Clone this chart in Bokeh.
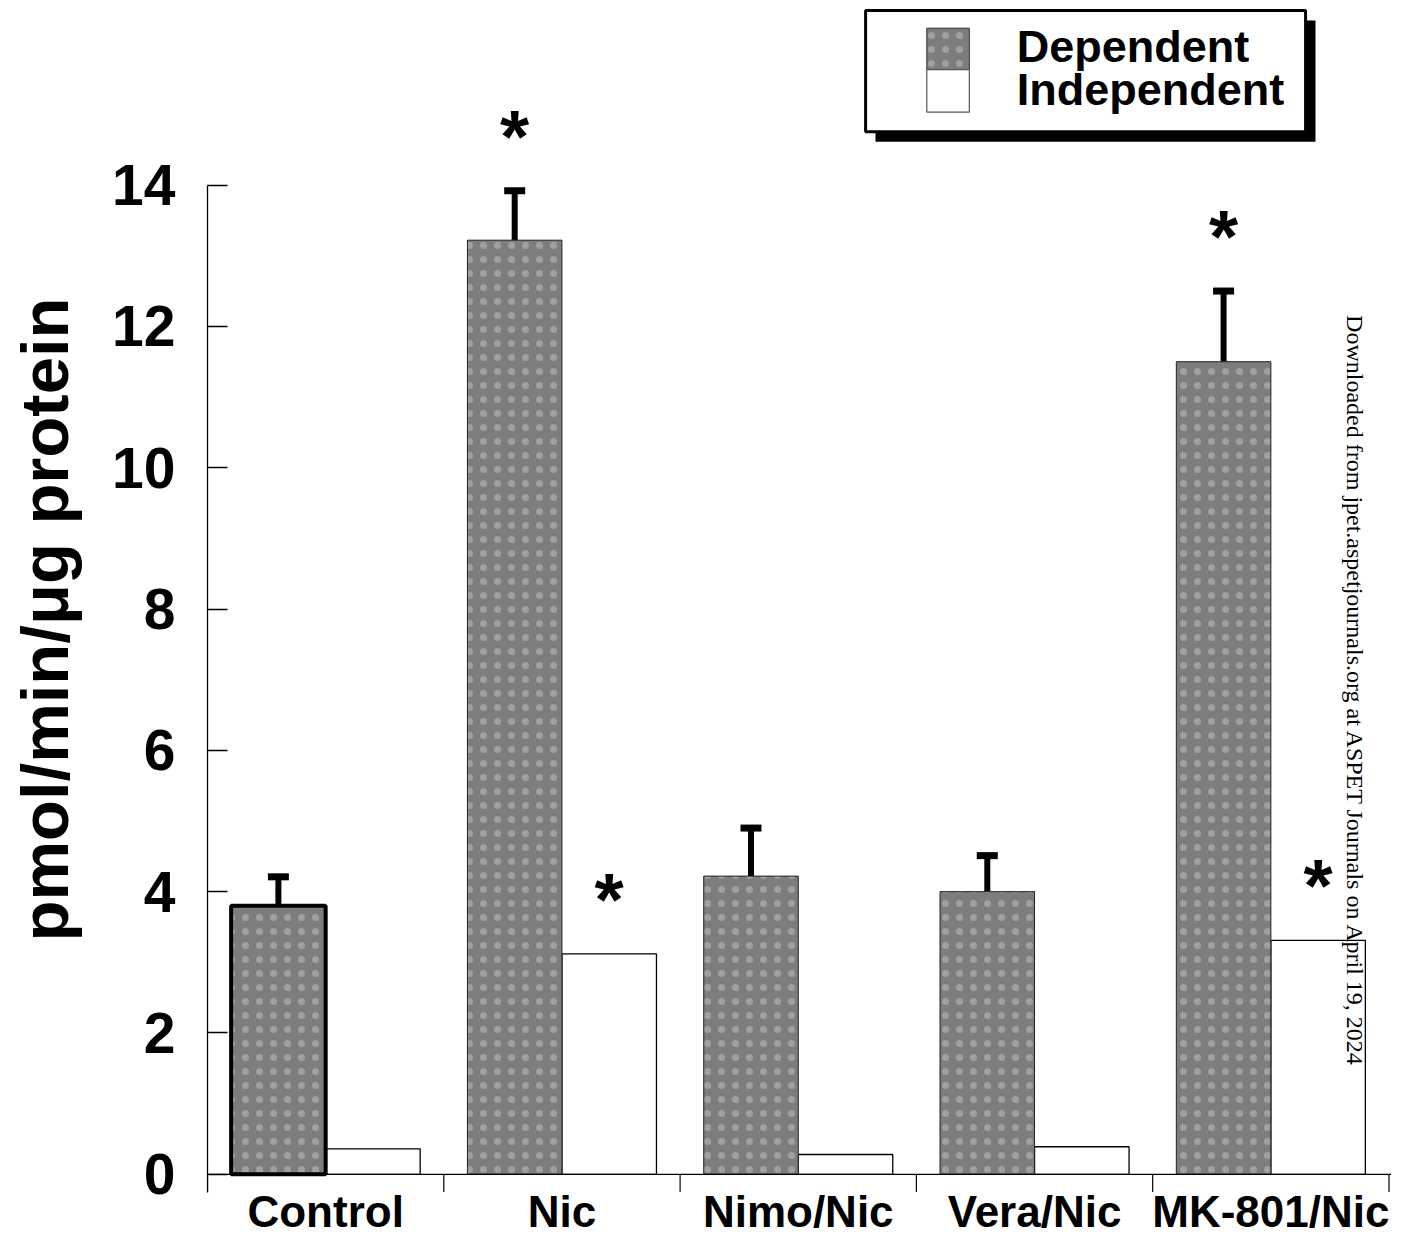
import math
from bokeh.plotting import figure
from bokeh.models import (Range1d, FixedTicker, Whisker, TeeHead, ColumnDataSource,
                          BoxAnnotation, Span, Label)
from bokeh.core.properties import value
from bokeh.embed import file_html
from bokeh.resources import INLINE

# ---------------- data ----------------
categories = ["Control", "Nic", "Nimo/Nic", "Vera/Nic", "MK-801/Nic"]
dependent = [3.80, 13.22, 4.22, 4.00, 11.50]
dependent_err = [0.41, 0.70, 0.68, 0.51, 1.00]
independent = [0.36, 3.12, 0.28, 0.39, 3.31]
dependent_sig = [False, True, False, False, True]
independent_sig = [False, True, False, False, True]
highlighted = ["Control"]
series_names = ["Dependent", "Independent"]
y_ticks = [0, 2, 4, 6, 8, 10, 12, 14]
y_label = "pmol/min/\u03bcg protein"
watermark = "Downloaded from jpet.aspetjournals.org at ASPET Journals on April 19, 2024"

FONT = "Liberation Sans"
DEP_FILL = dict(fill_color="#7d7d7d", hatch_pattern="dot", hatch_color="#a0a0a0",
                hatch_scale=14, hatch_weight=6)

n = len(categories)
centers = [i + 0.5 for i in range(n)]
dep_x = [c - 0.2 for c in centers]
ind_x = [c + 0.2 for c in centers]
upper = [d + e for d, e in zip(dependent, dependent_err)]

p = figure(width=1391, height=1238, output_backend="svg", toolbar_location=None,
           x_range=Range1d(0, 5.0106), y_range=Range1d(-0.9086, 16.612),
           x_axis_location=None, min_border_left=207, min_border_right=0,
           min_border_top=0, min_border_bottom=0)
p.outline_line_color = None
p.grid.visible = False
p.background_fill_color = "white"

# y axis
yax = p.yaxis[0]
yax.ticker = FixedTicker(ticks=y_ticks)
yax.bounds = (-0.252, 14)
yax.major_tick_in = 20
yax.major_tick_out = 0
yax.minor_tick_line_color = None
yax.axis_line_width = 1.3
yax.major_tick_line_width = 1.3
yax.major_label_text_font = FONT
yax.major_label_text_font_style = "bold"
yax.major_label_text_font_size = "57px"
yax.major_label_text_color = "black"
yax.major_label_standoff = 32
yax.axis_label = y_label
yax.axis_label_text_font = FONT
yax.axis_label_text_font_style = "bold"
yax.axis_label_text_font_size = "67px"
yax.axis_label_text_color = "black"
yax.axis_label_standoff = 27

# x axis baseline and category boundary ticks
p.add_layout(Span(location=0, dimension="width", line_color="black", line_width=1.3))
bounds = list(range(n + 1))
p.segment(x0=bounds, y0=[0] * len(bounds), x1=bounds, y1=[-0.252] * len(bounds),
          line_color="black", line_width=1.2)

src = ColumnDataSource(dict(cat=categories, dep_x=dep_x, ind_x=ind_x,
                            dependent=dependent, independent=independent, upper=upper))

ind = p.vbar(x="ind_x", top="independent", bottom=0, width=0.4, source=src,
             fill_color="white", line_color="black", line_width=1.3)
dep = p.vbar(x="dep_x", top="dependent", bottom=0, width=0.4, source=src,
             line_color="#222222", line_width=1, **DEP_FILL)

hl_idx = [i for i, c in enumerate(categories) if c in highlighted]
p.vbar(x=[dep_x[i] for i in hl_idx], top=[dependent[i] for i in hl_idx], bottom=0,
       width=0.4, fill_color=None, line_color="black", line_width=4)

w = Whisker(source=src, base="dep_x", lower="dependent", upper="upper", dimension="height",
            line_color="black", line_width=6,
            upper_head=TeeHead(size=21, line_width=7, line_color="black"), lower_head=None)
p.add_layout(w)

# significance stars
star_offset = 0.78
sx, sy = [], []
for i in range(n):
    if dependent_sig[i]:
        sx.append(dep_x[i]); sy.append(upper[i] + star_offset)
    if independent_sig[i]:
        sx.append(ind_x[i]); sy.append(independent[i] + star_offset)
p.text(x=sx, y=sy, text=["*"] * len(sx), text_font=value(FONT), text_font_style="bold",
       text_font_size="75px", text_align="center", text_baseline="middle", text_color="black")

# category labels
label_y = -0.531
p.text(x=centers, y=[label_y] * n, text=categories, text_font=value(FONT),
       text_font_style="bold", text_font_size="44px", text_align="center",
       text_baseline="middle", text_color="black")

# legend: box with drop shadow, swatches and labels
p.add_layout(BoxAnnotation(left=2.827, right=4.689, top=16.33, bottom=14.613,
                           fill_color="black", fill_alpha=1, line_color=None))
p.add_layout(BoxAnnotation(left=2.785, right=4.647, top=16.47, bottom=14.754,
                           fill_color="white", fill_alpha=1, line_color="black",
                           line_alpha=1, line_width=3))
p.add_layout(BoxAnnotation(left=3.044, right=3.224, top=16.22, bottom=15.634,
                           fill_alpha=1, line_color="#333333", line_alpha=1, line_width=1,
                           **DEP_FILL))
p.add_layout(BoxAnnotation(left=3.044, right=3.224, top=15.634, bottom=15.032,
                           fill_color="white", fill_alpha=1, line_color="#555555",
                           line_alpha=1, line_width=1.2))
for name, ly in zip(series_names, [15.962, 15.354]):
    p.add_layout(Label(x=3.425, y=ly, text=name, text_font=FONT, text_font_style="bold",
                       text_font_size="45px", text_align="left", text_baseline="middle",
                       text_color="black"))

p.add_layout(Label(x=4.856, y=6.833, text=watermark, angle=-math.pi / 2,
                   text_font="Liberation Serif", text_font_size="24px",
                   text_align="center", text_baseline="middle", text_color="black"))

open("out.html", "w").write(file_html(p, INLINE))
